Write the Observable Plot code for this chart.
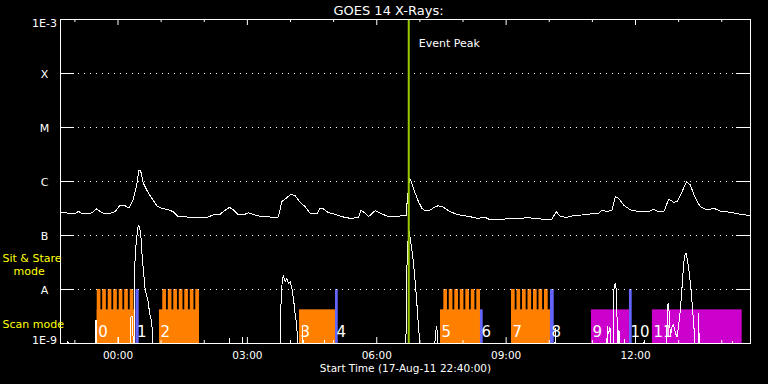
<!DOCTYPE html>
<html><head><meta charset="utf-8">
<script src="https://cdn.jsdelivr.net/npm/d3@7"></script>
<script src="https://cdn.jsdelivr.net/npm/@observablehq/plot@0.6"></script>
<style>html,body{margin:0;padding:0;background:#000;} svg{display:block}</style>
</head><body><div id="chart"></div>
<script>
// ---- data (times in minutes after 17-Aug-11 22:40:00 UT, flux in W/m^2) ----
const startLabel = "Start Time (17-Aug-11 22:40:00)";
const titleText = "GOES 14 X-Rays:";
const spanMinutes = 960;
const eventPeakMin = 484.5;
const levelValues = [1e-9, 1e-8, 1e-7, 1e-6, 1e-5, 1e-4, 1e-3];
const levelLabels = ["1E-9", "A", "B", "C", "M", "X", "1E-3"];
const gridLevels = [1e-8, 1e-7, 1e-6, 1e-5, 1e-4];
const scanTop = 4.2e-9;   // height of scan-mode bars
const stareTop = 1e-8;    // height of sit & stare bars
const lo = 5e-10;         // below plotted range

const longChannel = [
 [0,2.69e-7],[13.2,2.58e-7],[20.2,2.50e-7],[24.8,2.81e-7],[29.5,2.58e-7],[36.5,2.50e-7],[44.3,2.64e-7],
 [49.4,3.13e-7],[55.0,2.81e-7],[59.6,2.58e-7],[68.9,2.58e-7],[75.9,2.76e-7],[82.8,3.62e-7],[89.8,3.56e-7],
 [95.4,3.23e-7],[101.3,4.68e-7],[106.1,8.61e-7],[108.9,1.61e-6],[111.6,1.56e-6],[115.3,9.27e-7],[120.0,6.96e-7],
 [127.0,4.89e-7],[133.9,3.56e-7],[140.9,3.19e-7],[147.8,3.06e-7],[157.0,2.76e-7],[164.0,2.23e-7],[175.7,2.20e-7],
 [184.9,2.11e-7],[194.2,2.17e-7],[203.5,2.14e-7],[212.7,2.43e-7],[222.0,2.47e-7],[227.6,2.84e-7],[235.0,3.33e-7],
 [240.6,2.97e-7],[247.5,2.40e-7],[254.5,2.40e-7],[261.4,2.64e-7],[268.4,2.43e-7],[277.7,2.27e-7],[291.6,2.20e-7],
 [303.2,2.20e-7],[307.9,4.23e-7],[314.9,5.01e-7],[320.5,5.79e-7],[326.4,5.46e-7],[333.4,4.12e-7],[340.4,3.41e-7],
 [347.3,2.58e-7],[356.7,2.50e-7],[361.2,3.19e-7],[365.8,3.10e-7],[372.8,2.64e-7],[382.1,2.47e-7],[391.5,2.23e-7],
 [403.0,2.08e-7],[414.6,2.14e-7],[418.0,2.97e-7],[423.9,2.58e-7],[428.5,2.23e-7],[437.8,2.88e-7],[444.8,2.58e-7],
 [454.1,2.30e-7],[463.3,2.23e-7],[472.6,2.30e-7],[481.0,2.33e-7],[481.9,3.67e-7],[485.6,1.15e-6],[488.9,9.27e-7],
 [493.5,6.04e-7],[498.1,4.23e-7],[502.8,3.19e-7],[507.4,2.88e-7],[514.4,2.97e-7],[521.3,3.41e-7],[525.9,3.56e-7],
 [532.9,3.33e-7],[542.2,2.76e-7],[551.5,2.47e-7],[560.7,2.33e-7],[570.1,2.23e-7],[579.4,2.08e-7],[590.9,2.17e-7],
 [597.9,1.94e-7],[611.8,1.94e-7],[625.7,2.11e-7],[639.6,2.02e-7],[649.0,2.17e-7],[658.2,2.08e-7],[672.1,2.0e-7],
 [683.8,2.02e-7],[689.8,2.76e-7],[695.4,2.23e-7],[704.7,2.17e-7],[713.9,2.33e-7],[725.5,2.40e-7],[737.1,2.50e-7],
 [748.7,2.58e-7],[753.4,2.97e-7],[760.4,2.76e-7],[767.3,2.97e-7],[771.9,5.23e-7],[776.5,4.89e-7],[783.5,3.67e-7],
 [792.8,2.97e-7],[806.7,2.76e-7],[818.3,2.76e-7],[825.2,3.06e-7],[832.2,2.76e-7],[840.1,2.84e-7],[846.1,4.74e-7],
 [853.1,4.12e-7],[857.8,4.23e-7],[864.8,6.48e-7],[870.8,9.9e-7],[876.3,8.61e-7],[883.3,4.89e-7],[890.2,3.41e-7],
 [899.6,2.97e-7],[908.8,3.19e-7],[918.1,2.84e-7],[932.0,2.69e-7],[945.9,2.47e-7],[959.8,2.33e-7]
];

const shortChannel = [
 [0,lo],[9.5,lo],[10.4,1.1e-9],[11.3,lo],
 [48.5,lo],[49.4,2.7e-9],[50.3,lo],
 [80.2,lo],[81.0,1.3e-9],[81.8,lo],
 [97.0,lo],[97.7,3.1e-9],[99.5,3.2e-9],[100.5,2.7e-9],[101.5,lo],
 [102.8,lo],[103.5,3.1e-8],[105.5,8.3e-8],[108.3,1.56e-7],[109.7,1.46e-7],[111.6,1.11e-7],[113.0,5.4e-8],
 [114.4,3.1e-8],[117.6,1.07e-8],[120.0,7.4e-9],[122.2,5.9e-9],[123.6,3.9e-9],[127.0,2.4e-9],[128.4,1.2e-9],[129.3,lo],
 [234.2,lo],[234.9,1.26e-9],[235.6,lo],
 [252.4,lo],[253.1,1.3e-9],[253.8,lo],
 [305.4,lo],[307.0,7.4e-9],[308.8,1.61e-8],[310.2,1.78e-8],[312.5,1.39e-8],[314.9,1.61e-8],[317.1,1.30e-8],
 [319.5,1.39e-8],[321.8,1.06e-8],[324.1,6.9e-9],[326.4,3.6e-9],[328.8,2.05e-9],[331.0,lo],
 [336.0,lo],[337.0,2.0e-9],[338.0,lo],
 [366.0,lo],[366.8,1.16e-9],[367.6,lo],
 [480.5,lo],[481.0,5.6e-9],[482.5,5e-8],[484.5,1.3e-7],[485.6,1.11e-7],[488.9,5.4e-8],[491.1,3.1e-8],
 [493.5,1.39e-8],[495.8,5.6e-9],[498.1,2.05e-9],[499.5,1.16e-9],[500.5,lo],
 [520.5,lo],[521.3,1.55e-9],[523.7,2.05e-9],[525.0,lo],
 [687.5,lo],[688.4,1.9e-9],[689.3,lo],
 [758.7,lo],[759.4,1.25e-9],[760.1,lo],[760.8,2.05e-9],[762.5,1.5e-9],[764.5,2.05e-9],[765.5,lo],
 [768.7,lo],[769.6,9e-9],[771.0,1.24e-8],[771.9,1.3e-8],[773.3,9.8e-9],[774.3,3.1e-9],[775.1,lo],
 [776.2,lo],[777.0,1.8e-9],[778.5,lo],
 [784.3,lo],[785.0,1.2e-9],[785.8,lo],
 [811.2,lo],[811.9,1.16e-9],[812.6,lo],
 [841.5,lo],[843.9,2.3e-9],[845.3,5.5e-9],[847.1,3.6e-9],[848.5,1.34e-9],[850.8,2.05e-9],[853.1,2.2e-9],
 [855.5,1.55e-9],[857.8,1.34e-9],[860.0,2.2e-9],[862.4,4.2e-9],[864.8,1.13e-8],[867.0,3.07e-8],[869.4,4.68e-8],
 [870.8,4.54e-8],[872.6,3.27e-8],[874.9,2.0e-8],[877.3,9.8e-9],[879.5,4.2e-9],[881.9,1.55e-9],[883.3,lo],
 [886.5,lo],[887.9,3.6e-9],[889.0,lo],
 [934.5,lo],[935.2,1.1e-9],[936.0,lo],
 [960,lo]
];

// observation blocks
const obsLabels = ["0","1","2","3","4","5","6","7","8","9","10","11"];
const obsStart  = [51.1,105.0,137.7,332.5,382.6,528.7,584.3,627.5,681.7,738.7,791.6,823.5];
const obsEnd    = [104.6,109.5,193.4,382.6,386.4,584.3,588.1,681.7,686.9,791.6,795.4,948.4];
const obsKind   = ["scan","stare","scan","scan","stare","scan","blue","scan","stare","magenta","stare","magenta"];

// sit & stare raster teeth [start, end]
const teeth = [
 [51.1,56.2],[58.7,63.8],[66.4,71.5],[74.0,79.1],[81.7,86.8],[89.3,94.4],[97.0,102.1],
 [142.3,147.4],[150.0,155.1],[157.6,162.7],[165.3,170.4],[172.9,178.0],[180.6,185.7],[188.2,193.3],
 [533.3,538.4],[540.9,546.0],[548.6,553.7],[556.2,561.3],[563.9,569.0],[571.5,576.6],[579.2,584.3],
 [627.5,632.6],[635.1,640.2],[642.8,647.9],[650.4,655.5],[658.1,663.2],[665.7,670.8],[673.4,678.5]
];

// ---- chart ----
const START = Date.UTC(2011, 7, 17, 22, 40);
const T = m => new Date(START + m * 60000);
const W = 768, H = 384, mL = 60, mR = 18, mT = 19, mB = 41;
const fw = W - mL - mR, fh = H - mT - mB;

const blocks = obsLabels.map((l, i) => ({label: l, start: obsStart[i], end: obsEnd[i], kind: obsKind[i]}));
const ORANGE = "#ff8000", BLUE = "#6464ff", MAGENTA = "#cc00cc", GREEN = "#99cc00", YELLOW = "#ffff00";

const hourTicks = d3.utcHour.range(T(0), T(spanMinutes + 0.1));
const major = hourTicks.filter(d => d.getUTCHours() % 3 === 0);
const minor = hourTicks.filter(d => d.getUTCHours() % 3 !== 0);
const yLabels = levelValues.map((v, i) => ({v, t: levelLabels[i]}));
const FONT = "DejaVu Sans";
const ylab = (data, dy) => Plot.text(data, {y: "v", text: "t", frameAnchor: "left", dx: -16, dy, textAnchor: "middle", lineAnchor: "middle", fill: "white", fontSize: 11});

const chart = Plot.plot({
  width: W, height: H,
  marginLeft: mL, marginRight: mR, marginTop: mT, marginBottom: mB,
  style: {background: "black", color: "white", fontFamily: FONT, fontSize: "11px", overflow: "visible"},
  x: {type: "utc", domain: [T(0), T(spanMinutes)], axis: null},
  y: {type: "log", domain: [1e-9, 1e-3], axis: null},
  marks: [
    // observation bars
    Plot.rect(blocks.filter(d => d.kind === "scan"), {x1: d => T(d.start), x2: d => T(d.end), y1: d => 1e-9, y2: d => scanTop, fill: ORANGE}),
    Plot.rect(teeth, {x1: d => T(d[0]), x2: d => T(d[1]), y1: d => 1e-9, y2: d => stareTop, fill: ORANGE}),
    Plot.rect(blocks.filter(d => d.kind === "magenta"), {x1: d => T(d.start), x2: d => T(d.end), y1: d => 1e-9, y2: d => scanTop, fill: MAGENTA}),
    Plot.rect(blocks.filter(d => d.kind === "blue"), {x1: d => T(d.start), x2: d => T(d.end), y1: d => 1e-9, y2: d => scanTop, fill: BLUE}),
    Plot.rect(blocks.filter(d => d.kind === "stare"), {x1: d => T(d.start), x2: d => T(d.end), y1: d => 1e-9, y2: d => stareTop, fill: BLUE}),
    // grid
    Plot.ruleY(gridLevels, {stroke: "white", strokeWidth: 1, insetLeft: 15, insetRight: 15, strokeDasharray: "1,5", strokeDashoffset: 3}),
    Plot.ruleY(gridLevels, {stroke: "white", strokeWidth: 1, insetRight: fw - 14}),
    Plot.ruleY(gridLevels, {stroke: "white", strokeWidth: 1, insetLeft: fw - 14}),
    // observation numbers
    Plot.text(blocks, {x: d => T(d.start), text: "label", frameAnchor: "bottom", dy: -11, dx: 1, textAnchor: "start", lineAnchor: "middle", fill: "white", fontSize: 15, fontFamily: FONT}),
    // curves
    Plot.line(longChannel, {x: d => T(d[0]), y: d => d[1], stroke: "white", strokeWidth: 1, clip: true, shapeRendering: "crispEdges"}),
    Plot.line(shortChannel, {x: d => T(d[0]), y: d => d[1], stroke: "white", strokeWidth: 1, clip: true, shapeRendering: "crispEdges"}),
    // event peak
    Plot.ruleX([T(eventPeakMin)], {stroke: GREEN, strokeWidth: 2}),
    Plot.text(["Event Peak"], {x: d => T(eventPeakMin), text: d => d, frameAnchor: "top", dy: 23.5, dx: 10, textAnchor: "start", lineAnchor: "middle", fill: "white", fontSize: 11}),
    // time ticks
    Plot.ruleX(major, {stroke: "white", insetBottom: fh - 6}),
    Plot.ruleX(minor, {stroke: "white", insetBottom: fh - 3}),
    Plot.ruleX(major, {stroke: "white", insetTop: fh - 6}),
    Plot.ruleX(minor, {stroke: "white", insetTop: fh - 3}),
    Plot.frame({stroke: "white"}),
    // axis labels
    Plot.text(major, {x: d => d, text: d => d3.utcFormat("%H:%M")(d), frameAnchor: "bottom", dy: 12.5, lineAnchor: "middle", fill: "white", fontSize: 10.5}),
    Plot.text([startLabel], {text: d => d, frameAnchor: "bottom", dy: 25, lineAnchor: "middle", fill: "white", fontSize: 10.5}),
    Plot.text([titleText], {text: d => d, frameAnchor: "top", dy: -9, dx: -17, lineAnchor: "middle", fill: "white", fontSize: 13}),
    ylab(yLabels.slice(1, 6), 0.5),
    ylab(yLabels.slice(0, 1), -3),
    ylab(yLabels.slice(6), 3.5),
    // mode labels
    Plot.text(["Sit & Stare"], {text: d => d, frameAnchor: "bottom-left", dx: -58, dy: -85, textAnchor: "start", lineAnchor: "middle", fill: YELLOW, fontSize: 11}),
    Plot.text(["mode"], {text: d => d, frameAnchor: "bottom-left", dx: -47, dy: -72, textAnchor: "start", lineAnchor: "middle", fill: YELLOW, fontSize: 11}),
    Plot.text(["Scan mode"], {text: d => d, frameAnchor: "bottom-left", dx: -58, dy: -19, textAnchor: "start", lineAnchor: "middle", fill: YELLOW, fontSize: 11})
  ]
});
document.getElementById("chart").appendChild(chart);
</script>
</body></html>
